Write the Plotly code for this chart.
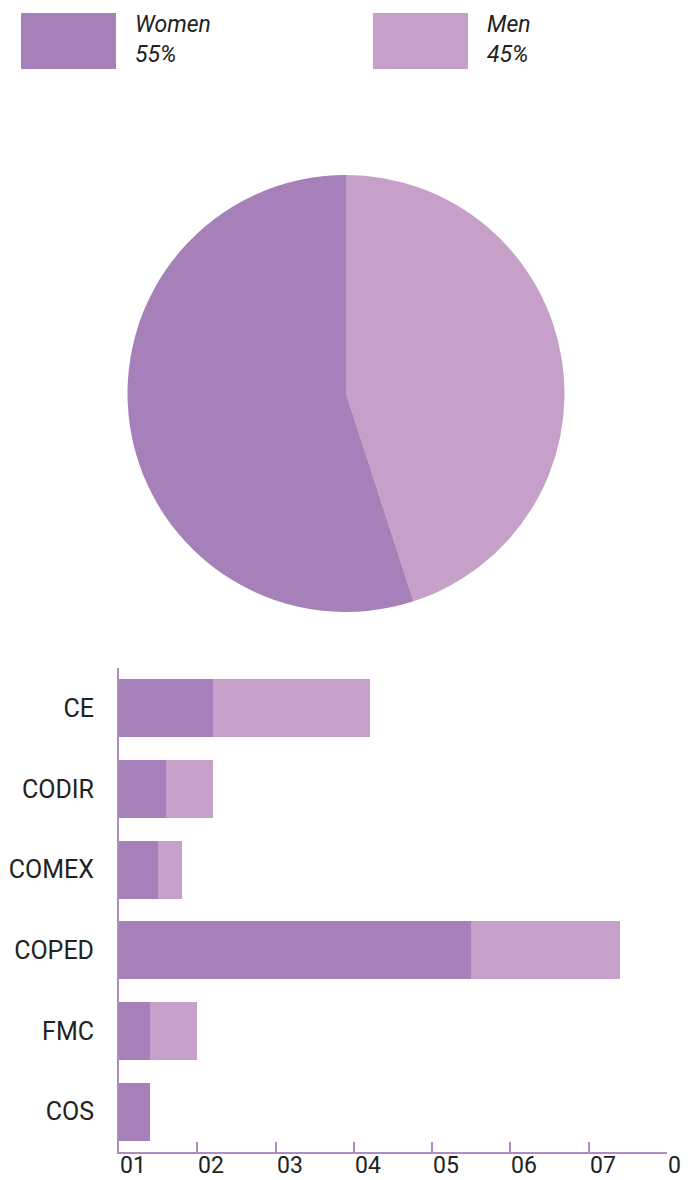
import plotly.graph_objects as go

# Gender split overall
genders = ["Women", "Men"]
gender_share = [55, 45]
colors = {"Women": "#a681b9", "Men": "#c6a0c9"}

# Headcount per committee
committees = ["CE", "CODIR", "COMEX", "COPED", "FMC", "COS"]
women = [12, 6, 5, 45, 4, 4]
men = [20, 6, 3, 19, 6, 0]

# Bottom axis ticks
tick_vals = [0, 10, 20, 30, 40, 50, 60, 70]
tick_text = ["01", "02", "03", "04", "05", "06", "07", "0"]

W, H = 695, 1180
AXIS_COLOR = "#b08cc4"
TEXT_COLOR = "#222222"
FONT = "Roboto, Noto Sans, sans-serif"


def px_x(p):
    return p / W


def px_y(p):
    return 1 - p / H


fig = go.Figure()

# Pie: Men starts at 12 o'clock going clockwise, Women fills the rest
fig.add_trace(go.Pie(
    labels=genders[::-1],
    values=gender_share[::-1],
    marker=dict(colors=[colors[g] for g in genders[::-1]], line=dict(width=0)),
    sort=False,
    direction="clockwise",
    rotation=0,
    textinfo="none",
    hoverinfo="label+percent",
    showlegend=False,
    domain=dict(x=[px_x(127), px_x(565)], y=[px_y(612), px_y(175)]),
))

# Stacked horizontal bars
for name, vals in (("Women", women), ("Men", men)):
    fig.add_trace(go.Bar(
        y=committees,
        x=vals,
        name=name,
        orientation="h",
        marker=dict(color=colors[name], line=dict(width=0)),
        width=0.72,
        showlegend=False,
        xaxis="x",
        yaxis="y",
    ))

# Tick labels, left-aligned at each tick, sitting on the bottom edge
annotations = []
for v, t in zip(tick_vals, tick_text):
    annotations.append(dict(
        x=v, xref="x", y=0, yref="paper",
        text=t, showarrow=False, xanchor="left", yanchor="bottom",
        xshift=0, borderpad=0,
        font=dict(family=FONT, size=23, color=TEXT_COLOR),
    ))

# Custom legend: swatch + italic name and share
shapes = []
legend_x = [21, 373]
for lx, g, share in zip(legend_x, genders, gender_share):
    shapes.append(dict(
        type="rect", xref="paper", yref="paper",
        x0=px_x(lx), x1=px_x(lx + 95), y0=px_y(69), y1=px_y(13),
        fillcolor=colors[g], line=dict(width=0),
    ))
    annotations.append(dict(
        x=px_x(lx + 112), xref="paper", y=px_y(9), yref="paper",
        text=f"{g}<br>{share}%", showarrow=False,
        xanchor="left", yanchor="top", align="left",
        font=dict(family=FONT, size=23, color=TEXT_COLOR, style="italic"),
    ))

fig.update_layout(
    width=W, height=H,
    margin=dict(l=0, r=0, t=0, b=0),
    paper_bgcolor="white",
    plot_bgcolor="white",
    barmode="stack",
    bargap=0.28,
    xaxis=dict(
        domain=[px_x(119), px_x(667)],
        range=[0, 70],
        tickvals=tick_vals,
        showticklabels=False,
        ticks="inside",
        ticklen=10,
        tickwidth=2,
        tickcolor=AXIS_COLOR,
        showline=True,
        linecolor=AXIS_COLOR,
        linewidth=2,
        showgrid=False,
        zeroline=False,
        fixedrange=True,
    ),
    yaxis=dict(
        domain=[px_y(1152), px_y(668)],
        categoryorder="array",
        categoryarray=committees,
        autorange="reversed",
        showline=True,
        linecolor=AXIS_COLOR,
        linewidth=2,
        ticks="",
        ticklabelstandoff=18,
        tickfont=dict(family=FONT, size=25, color=TEXT_COLOR),
        showgrid=False,
        zeroline=False,
        fixedrange=True,
    ),
    shapes=shapes,
    annotations=annotations,
)

fig.write_html("out.html")
